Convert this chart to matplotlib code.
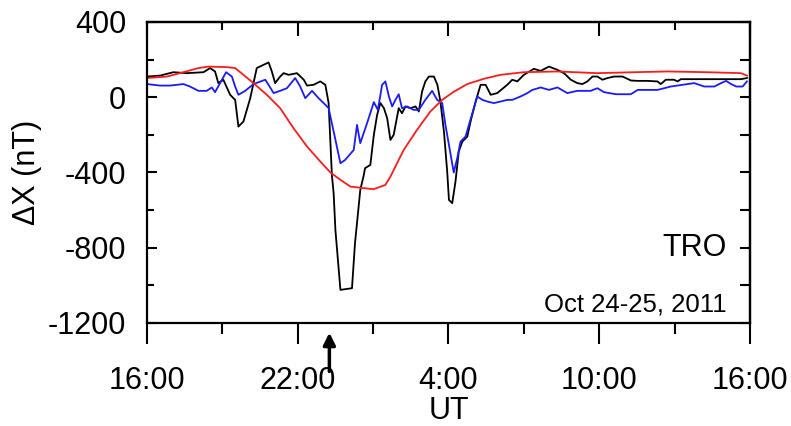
import matplotlib
matplotlib.use('Agg')
import matplotlib.pyplot as plt
from matplotlib.ticker import MultipleLocator, FixedLocator, NullFormatter
import numpy as np

plt.rcParams['font.family'] = ['Liberation Sans', 'DejaVu Sans']
plt.rcParams['axes.unicode_minus'] = False

# hours after 16:00 UT on Oct 24 (0..24), values in nT
black_t = [0, 0.52, 1.05, 1.58, 2.25, 2.51, 2.71, 2.84, 3.04, 3.31, 3.51, 3.64, 3.84, 4.11,
           4.37, 4.84, 4.97, 5.1, 5.3, 5.44, 5.64, 5.97, 6.24, 6.37, 6.63, 6.9, 7.1, 7.23,
           7.36, 7.43, 7.5, 7.7, 8.16, 8.28, 8.49, 8.62, 8.68, 8.89, 9.03, 9.16, 9.29, 9.43,
           9.56, 9.69, 9.82, 10.02, 10.15, 10.29, 10.49, 10.69, 10.82, 10.95, 11.08, 11.22,
           11.42, 11.56, 11.68, 11.82, 11.95, 12.02, 12.15, 12.28, 12.41, 12.55, 12.75, 12.88,
           13.08, 13.28, 13.48, 13.68, 13.94, 14.34, 14.54, 14.74, 15.0, 15.4, 15.67, 16.0,
           16.33, 16.6, 16.87, 17.13, 17.33, 17.53, 17.73, 17.93, 18.13, 18.33, 18.59, 18.93,
           19.26, 19.53, 19.92, 20.32, 20.45, 20.65, 20.98, 21.12, 21.25, 22.18, 23.05, 23.64,
           23.88]
black_v = [110, 115, 133, 128, 133, 155, 137, 75, 93, 13, -14, -156, -129, -5,
           155, 185, 137, 75, 110, 128, 119, 128, 93, 62, 66, 84, 66, -31,
           -413, -510, -705, -1024, -1015, -776, -493, -420, -377, -360, -200, -94, -31, -58,
           -111, -227, -200, -58, -85, -49, -58, -49, -76, 30, 84, 110,
           110, 66, -23, -182, -395, -546, -563, -448, -289, -236, -209, -129,
           -23, 66, 66, 13, 22, 66, 93, 84, 119, 151, 140, 163,
           146, 128, 93, 75, 70, 84, 110, 110, 93, 102, 110, 110,
           89, 87, 87, 84, 70, 93, 93, 84, 96, 96, 96, 96,
           102]

blue_t = [0, 0.52, 0.92, 1.45, 1.71, 2.05, 2.38, 2.58, 2.71, 2.91, 3.15, 3.38, 3.51, 3.64,
          3.91, 4.24, 4.71, 4.84, 5.04, 5.3, 5.57, 5.9, 6.1, 6.3, 6.57, 6.83, 7.1, 7.23,
          7.43, 7.7, 7.89, 8.23, 8.36, 8.49, 8.76, 9.03, 9.19, 9.36, 9.49, 9.63, 9.76, 9.89,
          10.02, 10.15, 10.35, 10.61, 10.82, 11.08, 11.35, 11.55, 11.75, 11.88, 12.08, 12.21,
          12.35, 12.48, 12.68, 12.95, 13.15, 13.35, 13.55, 13.81, 14.07, 14.34, 14.54, 14.87,
          15.14, 15.34, 15.67, 16.0, 16.34, 16.73, 17.13, 17.66, 17.93, 18.19, 18.66, 19.26,
          19.53, 19.92, 20.32, 20.59, 20.85, 21.52, 21.78, 22.18, 22.58, 22.85, 23.05, 23.25,
          23.46, 23.71, 23.88]
blue_v = [70, 62, 62, 70, 57, 34, 34, 52, 27, 75, 133, 110, 57, 13,
          34, 70, 93, 66, 22, 34, 48, 102, 57, -5, 34, -5, -40, -58,
          -182, -351, -333, -280, -147, -244, -138, -26, -67, 66, 84, 4, -49, -14,
          16, -58, -49, -67, -67, -14, 34, -14, -31, -147, -300, -400,
          -324, -236, -209, -85, 4, -14, -23, -31, -23, -14, -14, 4,
          22, 39, 52, 39, 52, 22, 34, 34, 48, 27, 16, 16,
          39, 39, 39, 48, 57, 70, 75, 57, 57, 75, 87, 70,
          57, 57, 84]

red_t = [0, 0.8, 1.45, 2.05, 2.44, 3.18, 3.51, 3.84, 4.24, 4.77, 5.3, 5.83, 6.37, 6.9,
         7.3, 7.7, 8.1, 9.02, 9.49, 9.69, 10.02, 10.22, 10.75, 11.28, 11.75, 12.22, 12.75,
         13.41, 14.07, 15.0, 16.34, 17.93, 19.39, 20.72, 22.32, 23.64, 23.88]
red_v = [102, 110, 133, 155, 163, 160, 155, 119, 75, 13, -58, -164, -262, -342,
         -400, -439, -475, -489, -466, -422, -333, -280, -173, -76, -14, 30, 70,
         98, 119, 133, 137, 128, 133, 137, 133, 128, 115]

xtick_pos = [0, 6, 12, 18, 24]
xtick_labels = ['16:00', '22:00', '4:00', '10:00', '16:00']
arrow_t = 7.26  # about 23:15 UT

fig = plt.figure(figsize=(7.91, 4.26), dpi=100)
ax = fig.add_axes([0.1858, 0.2418, 0.7623, 0.7066])

ax.plot(black_t, black_v, color='black', lw=1.3)
ax.plot(blue_t, blue_v, color='#1a1aff', lw=1.3)
ax.plot(red_t, red_v, color='#ff1a1a', lw=1.3)

ax.set_xlim(0, 24)
ax.set_ylim(-1200, 400)

ax.set_xticks(xtick_pos)
ax.set_xticklabels(xtick_labels)
ax.xaxis.set_minor_locator(MultipleLocator(3))
ax.yaxis.set_major_locator(MultipleLocator(400))
ax.yaxis.set_minor_locator(MultipleLocator(200))

for s in ax.spines.values():
    s.set_linewidth(1.6)

ax.tick_params(axis='x', which='major', direction='out', length=15, width=1.5,
               labelsize=22, pad=16, top=False)
ax.tick_params(axis='x', which='minor', direction='out', length=8, width=1.5, top=False)
ax.tick_params(axis='y', which='major', direction='in', length=7, width=1.5,
               labelsize=22, pad=15, right=False)
ax.tick_params(axis='y', which='minor', direction='in', length=5, width=1.5, right=False)

# top and right ticks point inward
top = ax.secondary_xaxis('top')
top.xaxis.set_major_locator(FixedLocator(xtick_pos))
top.xaxis.set_minor_locator(MultipleLocator(3))
top.xaxis.set_major_formatter(NullFormatter())
top.tick_params(which='major', direction='in', length=10, width=1.5)
top.tick_params(which='minor', direction='in', length=6, width=1.5)
top.spines['top'].set_linewidth(1.6)

right = ax.secondary_yaxis('right')
right.yaxis.set_major_locator(MultipleLocator(400))
right.yaxis.set_minor_locator(MultipleLocator(200))
right.yaxis.set_major_formatter(NullFormatter())
right.tick_params(which='both', direction='in', length=7, width=1.5)
right.spines['right'].set_linewidth(1.6)

ax.set_ylabel('ΔX (nT)', fontsize=22, labelpad=4)
ax.set_xlabel('UT', fontsize=22, labelpad=0)

ax.text(0.962, 0.2226, 'TRO', transform=ax.transAxes, ha='right', va='baseline', fontsize=22)
ax.text(0.962, 0.0375, 'Oct 24-25, 2011', transform=ax.transAxes, ha='right',
        va='baseline', fontsize=18.5)

ax.annotate('', xy=(arrow_t, -0.023), xytext=(arrow_t, -0.17),
            xycoords=('data', 'axes fraction'), textcoords=('data', 'axes fraction'),
            arrowprops=dict(arrowstyle='-|>', color='black', lw=2.5, mutation_scale=18),
            annotation_clip=False)

fig.savefig('out.png', dpi=100)
